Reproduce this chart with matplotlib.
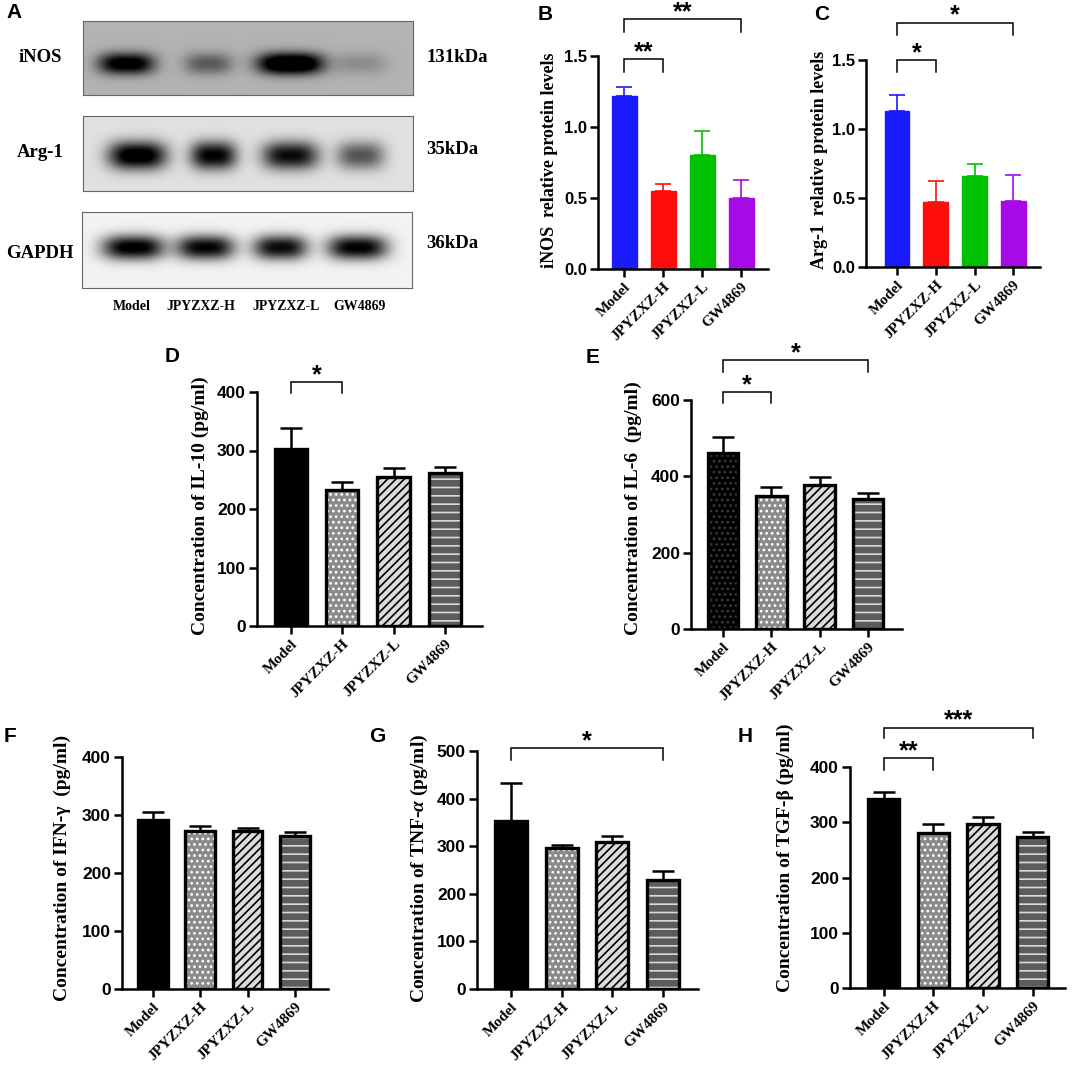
import numpy as np
import matplotlib
matplotlib.use('Agg')
import matplotlib.pyplot as plt

plt.rcParams['mathtext.fontset'] = 'custom'
plt.rcParams['mathtext.it'] = 'Liberation Serif:italic:bold'
plt.rcParams['mathtext.rm'] = 'Liberation Serif:bold'
plt.rcParams['hatch.linewidth'] = 1.2

W, H = 1072, 1066
SANS = 'Liberation Sans'
SERIF = 'Liberation Serif'

# 组别
groups = ['Model', 'JPYZXZ-H', 'JPYZXZ-L', 'GW4869']

# 蛋白条带灰度 (0-1, 越大越黑)
blot_names = ['iNOS', 'Arg-1', 'GAPDH']
blot_kda = ['131kDa', '35kDa', '36kDa']
inos_band = [0.80, 0.35, 1.00, 0.15]
arg1_band = [1.00, 0.90, 0.85, 0.55]
gapdh_band = [1.00, 0.95, 0.92, 0.97]

# Western blot 定量
inos_mean = [1.22, 0.55, 0.80, 0.50]
inos_err = [0.06, 0.05, 0.17, 0.13]
arg1_mean = [1.13, 0.47, 0.66, 0.48]
arg1_err = [0.12, 0.15, 0.09, 0.19]

# ELISA 结果 (pg/ml)
il10_mean = [303, 233, 254, 261]
il10_err = [35, 14, 16, 11]
il6_mean = [462, 348, 377, 341]
il6_err = [40, 24, 20, 16]
ifng_mean = [291, 273, 273, 263]
ifng_err = [14, 8, 5, 8]
tnfa_mean = [352, 296, 309, 228]
tnfa_err = [81, 7, 12, 20]
tgfb_mean = [342, 281, 296, 273]
tgfb_err = [13, 15, 13, 10]

# 显著性标记: (组1, 组2, 横线高度, 竖线下端, 文本)
sig_inos = [(0, 1, 1.48, 1.39, '**'), (0, 3, 1.76, 1.67, '**')]
sig_arg1 = [(0, 1, 1.50, 1.41, '*'), (0, 3, 1.77, 1.68, '*')]
sig_il10 = [(0, 1, 417, 398, '*')]
sig_il6 = [(0, 1, 621, 592, '*'), (0, 3, 705, 673, '*')]
sig_tnfa = [(0, 3, 506, 481, '*')]
sig_tgfb = [(0, 1, 416, 395, '**'), (0, 3, 471, 452, '***')]

fig = plt.figure(figsize=(W / 100, H / 100), dpi=100)


def px_ax(x0, x1, ytop, ybot):
    return fig.add_axes([x0 / W, 1 - ybot / H, (x1 - x0) / W, (ybot - ytop) / H])


def fig_text(x, y, s, **kw):
    fig.text(x / W, 1 - y / H, s, **kw)


# ---------- A: western blot ----------
def blot_image(levels, bg, cy, lane_x, half_w, half_h, w=330, h=75):
    xx, yy = np.meshgrid(np.arange(w), np.arange(h))
    dark = np.full((h, w), bg)
    for lev, cx, hw in zip(levels, lane_x, half_w):
        prof = np.exp(-np.abs((xx - cx) / hw) ** 3.0 - np.abs((yy - cy * h) / half_h) ** 2.2)
        dark = dark + lev * prof
    return 1 - np.clip(dark, 0, 1)


blot_boxes = [(83, 413, 21, 95), (83, 413, 116, 191), (82, 412, 212, 288)]
blot_levels = [inos_band, arg1_band, gapdh_band]
blot_bg = [0.30, 0.12, 0.05]
blot_cy = [0.57, 0.52, 0.46]
blot_lanes = [[43, 125, 207, 277], [54, 130, 207, 277], [51, 123, 198, 275]]
blot_hw = [[28, 24, 33, 26], [29, 23, 28, 24], [31, 29, 27, 30]]
blot_hh = [11, 14, 12]
label_y = [58, 153, 253]
kda_y = [57, 150, 243]

for k in range(3):
    x0, x1, y0, y1 = blot_boxes[k]
    ax = px_ax(x0, x1, y0, y1)
    img = blot_image(blot_levels[k], blot_bg[k], blot_cy[k], blot_lanes[k],
                     blot_hw[k], blot_hh[k])
    ax.imshow(img, cmap='gray', vmin=0, vmax=1, aspect='auto', interpolation='bilinear')
    ax.set_xticks([])
    ax.set_yticks([])
    for sp in ax.spines.values():
        sp.set_color('#666666')
        sp.set_linewidth(0.8)
    fig_text(40, label_y[k], blot_names[k], family=SERIF, weight='bold', fontsize=13.5,
             ha='center', va='center')
    fig_text(426, kda_y[k], blot_kda[k], family=SERIF, weight='bold', fontsize=13.5,
             ha='left', va='center')

for g, x in zip(groups, [132, 201, 286, 360]):
    fig_text(x, 307, g, family=SERIF, weight='bold', fontsize=10, ha='center', va='center')


# ---------- bar panels ----------
def bracket(ax, sigs, xs, lw=1.1, fs=18):
    for i, j, ytop, ybot, s in sigs:
        ax.plot([xs[i], xs[i], xs[j], xs[j]], [ybot, ytop, ytop, ybot], color='black',
                lw=lw, clip_on=False, solid_joinstyle='miter')
        ax.text((xs[i] + xs[j]) / 2, ytop, s, ha='center', va='baseline', fontsize=fs,
                family=SANS, weight='bold', clip_on=False)


def style_axes(ax, ymax, yticks, fmt, xlim, yfs=12.5):
    ax.set_xlim(*xlim)
    ax.set_ylim(0, ymax)
    ax.spines['top'].set_visible(False)
    ax.spines['right'].set_visible(False)
    for sp in ['left', 'bottom']:
        ax.spines[sp].set_linewidth(1.8)
    ax.set_yticks(yticks)
    ax.set_yticklabels([fmt.format(t) for t in yticks], family=SANS, weight='bold',
                       fontsize=yfs)
    ax.set_xticks(range(4))
    ax.set_xticklabels(groups, family=SERIF, weight='bold', fontsize=11, rotation=45,
                       ha='right', va='top', rotation_mode='anchor')
    ax.tick_params(axis='both', direction='out', length=6, width=1.8, pad=2)
    ax.tick_params(axis='x', pad=2)


def color_panel(box, means, errs, colors, ymax, sigs, xlim):
    ax = px_ax(*box)
    xs = np.arange(4)
    ax.bar(xs, means, width=0.64, color=colors, edgecolor=colors, lw=1.0, zorder=2)
    for x, m, e, c in zip(xs, means, errs, colors):
        ax.errorbar([x], [m], yerr=[[0], [e]], fmt='none', ecolor=c, elinewidth=1.2,
                    capsize=6, capthick=1.2, zorder=1)
    style_axes(ax, ymax, [0, 0.5, 1.0, 1.5], '{:.1f}', xlim, yfs=12)
    bracket(ax, sigs, xs)
    return ax


bar_colors = ['#1a1aff', '#ff0d0d', '#00c000', '#a80ae6']
color_panel((598, 768, 56, 269), inos_mean, inos_err, bar_colors, 1.5, sig_inos,
            (-0.667, 3.69))
color_panel((866, 1040, 60, 267), arg1_mean, arg1_err, bar_colors, 1.5, sig_arg1,
            (-0.80, 3.69))
fig_text(550, 160, 'iNOS  relative protein levels', family=SERIF, weight='bold',
         fontsize=13, rotation=90, ha='center', va='center')
fig_text(820, 160, 'Arg-1  relative protein levels', family=SERIF, weight='bold',
         fontsize=13, rotation=90, ha='center', va='center')

faces = ['black', '#8a8a8a', '#dcdcdc', '#5c5c5c']
hatches = [None, '...', '////', '--']
hcolors = ['black', 'white', 'black', '#d9d9d9']


def gray_panel(box, means, errs, ymax, step, sigs, xlim, model_dots=False):
    ax = px_ax(*box)
    xs = np.arange(4)
    for k in range(4):
        h = hatches[k]
        hc = hcolors[k]
        if k == 0 and model_dots:
            h, hc = '...', '#3a3a3a'
        ax.bar(xs[k], means[k], width=0.63, color=faces[k], edgecolor=hc, hatch=h, lw=0,
               zorder=2)
        ax.bar(xs[k], means[k], width=0.63, fill=False, edgecolor='black', lw=2.4,
               zorder=3)
    ax.errorbar(xs, means, yerr=[np.zeros(4), errs], fmt='none', ecolor='black',
                elinewidth=1.8, capsize=8, capthick=1.8, zorder=1)
    style_axes(ax, ymax, np.arange(0, ymax + 1, step), '{:.0f}', xlim)
    bracket(ax, sigs, xs)
    return ax


gray_panel((257, 482, 392, 626), il10_mean, il10_err, 400, 100, sig_il10, (-0.66, 3.72))
gray_panel((691, 902, 400, 629), il6_mean, il6_err, 600, 200, sig_il6, (-0.66, 3.70),
           model_dots=True)
gray_panel((122, 328, 757, 989), ifng_mean, ifng_err, 400, 100, [], (-0.655, 3.70))
gray_panel((477, 698, 751, 989), tnfa_mean, tnfa_err, 500, 100, sig_tnfa, (-0.67, 3.69))
gray_panel((850, 1065, 767, 988), tgfb_mean, tgfb_err, 400, 100, sig_tgfb, (-0.68, 3.65))

ylabels = [
    (200, 506, 'Concentration of IL-10 (pg/ml)'),
    (633, 508, 'Concentration of IL-6  (pg/ml)'),
    (62, 868, 'Concentration of IFN-\u03b3  (pg/ml)'),
    (419, 868, r'Concentration of TNF-$\alpha$ (pg/ml)'),
    (785, 858, 'Concentration of TGF-\u03b2 (pg/ml)'),
]
for x, y, s in ylabels:
    fig_text(x, y, s, family=SERIF, weight='bold', fontsize=14, rotation=90,
             ha='center', va='center')

# 面板字母
letters = [('A', 14, 13), ('B', 545, 15), ('C', 822, 15), ('D', 172, 357),
           ('E', 593, 358), ('F', 10, 737), ('G', 377, 737), ('H', 745, 737)]
for s, x, y in letters:
    fig_text(x, y, s, family=SANS, weight='bold', fontsize=15, ha='center', va='center')

fig.savefig('out.png', dpi=100)
